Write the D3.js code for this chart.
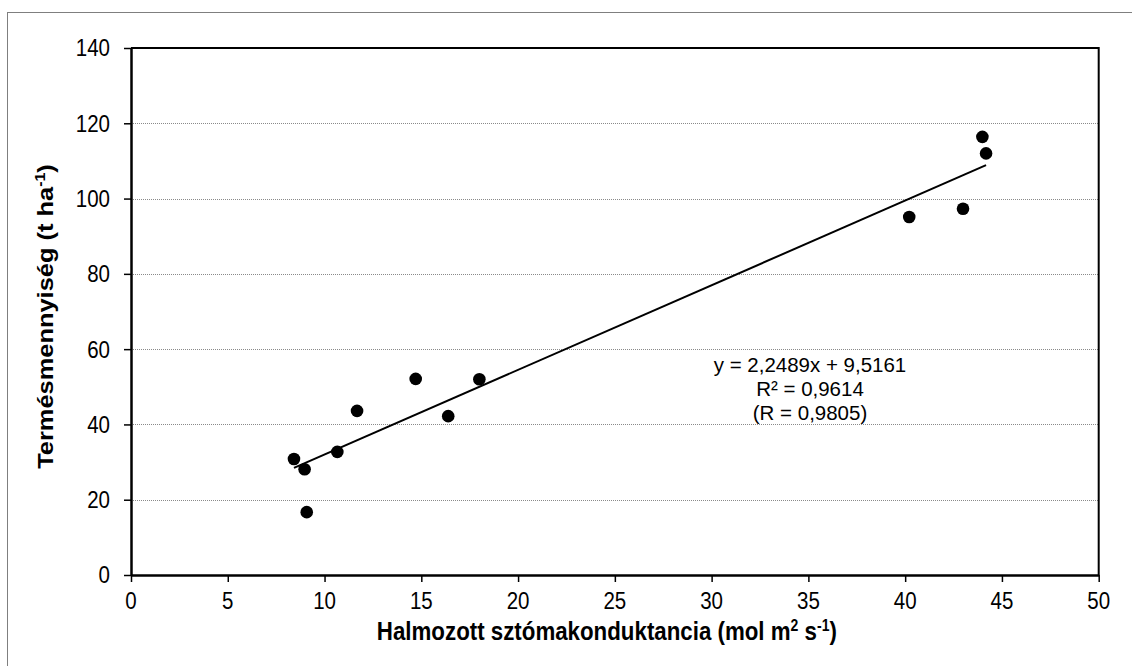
<!DOCTYPE html>
<html>
<head>
<meta charset="utf-8">
<script src="https://cdn.jsdelivr.net/npm/d3@7/dist/d3.min.js"></script>
<style>
  html, body { margin: 0; padding: 0; background: #fff; }
  svg { display: block; font-family: "Liberation Sans", Arial, sans-serif; }
</style>
</head>
<body>
<svg id="chart" width="1132" height="666"></svg>
<script>
// ---- data ----
const conductance = [8.42, 8.97, 9.08, 10.66, 11.68, 14.71, 16.39, 18.0, 40.21, 42.99, 43.99, 44.18];
const yieldValues = [30.8, 28.1, 16.7, 32.7, 43.6, 52.1, 42.2, 52.0, 95.1, 97.3, 116.4, 112.0];
const xTicks = [0, 5, 10, 15, 20, 25, 30, 35, 40, 45, 50];
const yTicks = [0, 20, 40, 60, 80, 100, 120, 140];
const trendSlope = 2.2489;
const trendIntercept = 9.5161;
const equationLines = ["y = 2,2489x + 9,5161", "R² = 0,9614", "(R = 0,9805)"];
const xTitle = "Halmozott sztómakonduktancia (mol m";
const yTitle = "Termésmennyiség (t ha";

// ---- layout ----
const W = 1132, H = 666;
const plot = { left: 131, top: 48, right: 1098.7, bottom: 575 };
const SY = 1.14; // vertical stretch of glyphs in the reference

const svg = d3.select("#chart");

// outer chart border (extends beyond the image on right/bottom)
svg.append("rect")
  .attr("x", 7.5).attr("y", 12.5)
  .attr("width", W + 20).attr("height", H + 20)
  .attr("fill", "#fff").attr("stroke", "#7f7f7f").attr("stroke-width", 1);

const x = d3.scaleLinear().domain([0, 50]).range([plot.left, plot.right]);
const y = d3.scaleLinear().domain([0, 140]).range([plot.bottom, plot.top]);

// gridlines
svg.append("g")
  .selectAll("line")
  .data(yTicks.filter(t => t > 0 && t < 140))
  .join("line")
  .attr("x1", plot.left).attr("x2", plot.right)
  .attr("y1", d => Math.round(y(d)) + 0.5).attr("y2", d => Math.round(y(d)) + 0.5)
  .attr("stroke", "#8a8a8a").attr("stroke-width", 1)
  .attr("stroke-dasharray", "1,1");

// plot area border top/right
svg.append("path")
  .attr("d", `M${plot.left},${y(140)} H${x(50)} V${plot.bottom}`)
  .attr("fill", "none").attr("stroke", "#000").attr("stroke-width", 2);

// axes (lines and ticks)
const xAxis = d3.axisBottom(x).tickValues(xTicks).tickSize(7).tickFormat(() => "").tickSizeOuter(0);
const yAxis = d3.axisLeft(y).tickValues(yTicks).tickSize(7).tickFormat(() => "").tickSizeOuter(0);

const gx = svg.append("g").attr("transform", `translate(0,${plot.bottom})`).call(xAxis);
const gy = svg.append("g").attr("transform", `translate(${plot.left},0)`).call(yAxis);

[gx, gy].forEach(g => {
  g.select(".domain").attr("stroke", "#000").attr("stroke-width", 2.5);
  g.selectAll(".tick line").attr("stroke", "#000").attr("stroke-width", 1.5);
  g.selectAll(".tick text").remove();
});

// tick labels (stretched vertically like the reference)
svg.append("g")
  .selectAll("text")
  .data(xTicks)
  .join("text")
  .attr("text-anchor", "middle")
  .attr("transform", d => `translate(${x(d)},609) scale(1,${SY})`)
  .style("font-size", "20.5px").attr("fill", "#000")
  .text(d => d);

svg.append("g")
  .selectAll("text")
  .data(yTicks)
  .join("text")
  .attr("text-anchor", "end")
  .attr("transform", d => `translate(110,${y(d) + 8.4}) scale(1,${SY})`)
  .style("font-size", "20.5px").attr("fill", "#000")
  .text(d => d);

// trend line
const xMin = d3.min(conductance), xMax = d3.max(conductance);
svg.append("line")
  .attr("x1", x(xMin)).attr("y1", y(trendSlope * xMin + trendIntercept))
  .attr("x2", x(xMax)).attr("y2", y(trendSlope * xMax + trendIntercept))
  .attr("stroke", "#000").attr("stroke-width", 2);

// points
svg.append("g")
  .selectAll("circle")
  .data(conductance.map((c, i) => [c, yieldValues[i]]))
  .join("circle")
  .attr("cx", d => x(d[0])).attr("cy", d => y(d[1]))
  .attr("r", 6.3).attr("fill", "#000");

// equation (three lines)
equationLines.forEach((t, i) => {
  svg.append("text")
    .attr("text-anchor", "middle")
    .attr("transform", `translate(810,${372 + i * 24}) scale(1,1.02)`)
    .style("font-size", "20.5px").attr("fill", "#000")
    .text(t);
});

// x title
const xt = svg.append("text")
  .attr("transform", `translate(${(plot.left + plot.right) / 2 - 8},640) scale(1,${SY})`)
  .attr("text-anchor", "middle")
  .style("font-size", "22.3px").style("font-weight", "bold").attr("fill", "#000");
xt.append("tspan").text(xTitle);
xt.append("tspan").attr("dy", -8).style("font-size", "14px").text("2");
xt.append("tspan").attr("dy", 8).text(" s");
xt.append("tspan").attr("dy", -8).style("font-size", "14px").text("-1");
xt.append("tspan").attr("dy", 8).text(")");

// y title
const yt = svg.append("text")
  .attr("transform", `translate(53,${(plot.top + plot.bottom) / 2 + 5}) scale(1,${SY}) rotate(-90)`)
  .attr("text-anchor", "middle")
  .style("font-size", "22.3px").style("font-weight", "bold").attr("fill", "#000");
yt.append("tspan").text(yTitle);
yt.append("tspan").attr("dy", -8).style("font-size", "14px").text("-1");
yt.append("tspan").attr("dy", 8).text(")");
</script>
</body>
</html>
